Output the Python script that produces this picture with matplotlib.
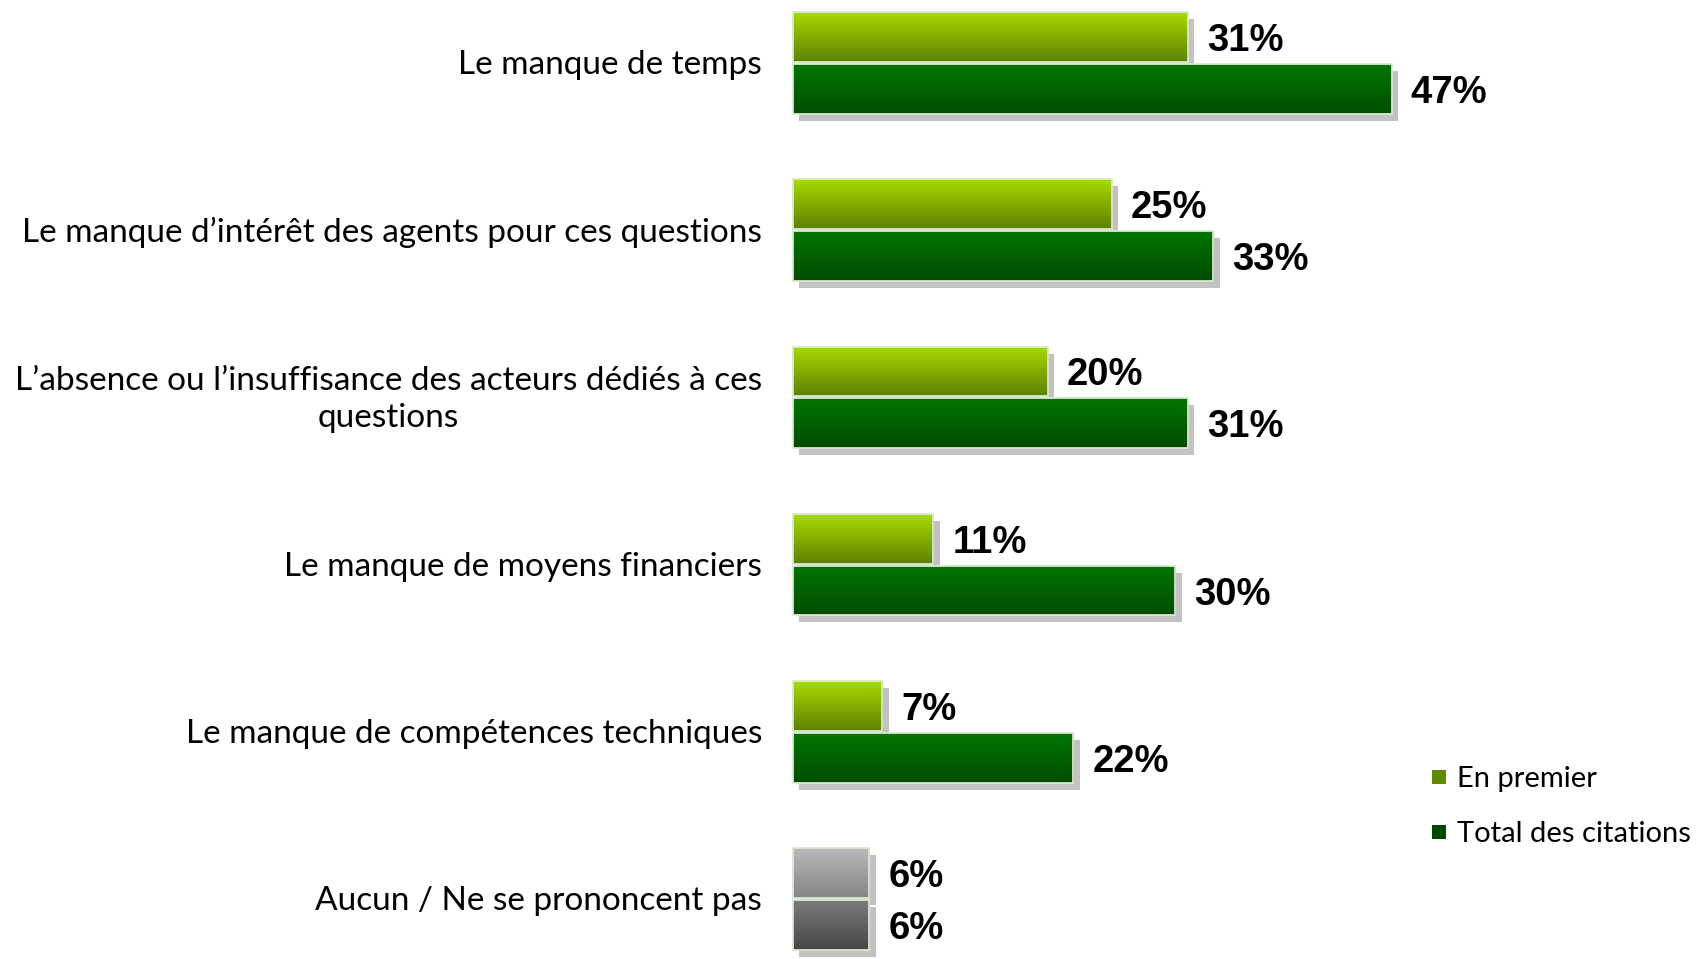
import numpy as np
import matplotlib
matplotlib.use("Agg")
import matplotlib.pyplot as plt
import matplotlib.patheffects as pe
from matplotlib.patches import Rectangle
from matplotlib import font_manager as fm

# ---------------- data ----------------
categories = [
    "Le manque de temps",
    "Le manque d\u2019intérêt des agents pour ces questions",
    "L\u2019absence ou l\u2019insuffisance des acteurs dédiés à ces\nquestions",
    "Le manque de moyens financiers",
    "Le manque de compétences techniques",
    "Aucun / Ne se prononcent pas",
]
en_premier = [31, 25, 20, 11, 7, 6]
total_citations = [47, 33, 31, 30, 22, 6]
series_names = ["En premier", "Total des citations"]

# ---------------- style ----------------
W, H = 1707, 959
DPI = 100
ZERO_PX = 793.0
PX_PER_PCT = 12.74
FIRST_CENTER_PX = 63.0
GROUP_STEP_PX = 167.2

def pick(fams):
    avail = {f.name for f in fm.fontManager.ttflist}
    for f in fams:
        if f in avail:
            return f
    return "DejaVu Sans"

label_font = pick(["Lato", "Roboto", "DejaVu Sans"])
value_font = pick(["Liberation Sans Narrow", "Liberation Sans", "DejaVu Sans"])

grad_light = ("#a6dc00", "#5a8200")
grad_dark = ("#007600", "#004c00")
grad_gray_top = ("#bababa", "#858585")
grad_gray_bot = ("#7c7c7c", "#464646")
legend_colors = ["#5f8a00", "#004800"]

fig = plt.figure(figsize=(W / DPI, H / DPI), dpi=DPI)
ax = fig.add_axes([0, 0, 1, 1])
ax.set_xlim(-ZERO_PX / PX_PER_PCT, (W - ZERO_PX) / PX_PER_PCT)
ax.set_ylim((H - FIRST_CENTER_PX) / GROUP_STEP_PX, -FIRST_CENTER_PX / GROUP_STEP_PX)
ax.axis("off")

n = len(categories)
y = np.arange(n)
bh = 0.298
off = 0.155

def gradient_img(c_top, c_bot, nrows=128):
    a = np.array(matplotlib.colors.to_rgb(c_top))
    b = np.array(matplotlib.colors.to_rgb(c_bot))
    t = np.linspace(0, 1, nrows)[:, None]
    return (a * (1 - t) + b * t)[:, None, :]

shadow = [pe.SimplePatchShadow(offset=(4.6, -5.0), shadow_rgbFace="#c2c2c2", alpha=1.0), pe.Normal()]

bars1 = ax.barh(y - off, en_premier, height=bh, color="white", zorder=2)
bars2 = ax.barh(y + off, total_citations, height=bh, color="white", zorder=2)

for i, (b1, b2) in enumerate(zip(bars1, bars2)):
    last = (i == n - 1)
    for b, grad in ((b1, grad_gray_top if last else grad_light),
                    (b2, grad_gray_bot if last else grad_dark)):
        b.set_path_effects(shadow)
        x0, yb = b.get_x(), b.get_y()
        w, h = b.get_width(), b.get_height()
        im = ax.imshow(gradient_img(*grad), extent=(x0, x0 + w, yb + h, yb),
                       aspect="auto", interpolation="bilinear", zorder=3)
        im.set_clip_path(b)

ax.barh(y - off, en_premier, height=bh, fill=False, edgecolor="#dce8d2", linewidth=1.3, zorder=4)
ax.barh(y + off, total_citations, height=bh, fill=False, edgecolor="#dce8d2", linewidth=1.3, zorder=4)

# value labels (baseline placed ~14 px below the bar centre)
gap = 19.0 / PX_PER_PCT
base_dy = 14.0 / GROUP_STEP_PX
for yy, v in zip(y - off, en_premier):
    ax.text(v + gap, yy + base_dy, f"{v}%", ha="left", va="baseline", fontsize=27.5,
            fontweight="bold", family=value_font, color="black", zorder=5)
for yy, v in zip(y + off, total_citations):
    ax.text(v + gap, yy + base_dy, f"{v}%", ha="left", va="baseline", fontsize=27.5,
            fontweight="bold", family=value_font, color="black", zorder=5)

# category labels
lab_x = (762 - ZERO_PX) / PX_PER_PCT
for yy, c in zip(y, categories):
    ax.text(lab_x, yy + 2.0 / GROUP_STEP_PX, c, ha="right", va="center", multialignment="center",
            fontsize=24, family=label_font, color="black", linespacing=1.3)

# legend
for k, (name, col) in enumerate(zip(series_names, legend_colors)):
    cy = 777 + 55 * k
    fig.add_artist(Rectangle((1432 / W, 1 - (cy + 7) / H), 14 / W, 14 / H,
                             transform=fig.transFigure, facecolor=col, edgecolor="none"))
    fig.text(1457 / W, 1 - (cy + 2) / H, name, ha="left", va="center",
             fontsize=21, family=label_font, color="black")

fig.savefig("out.png", dpi=DPI)
